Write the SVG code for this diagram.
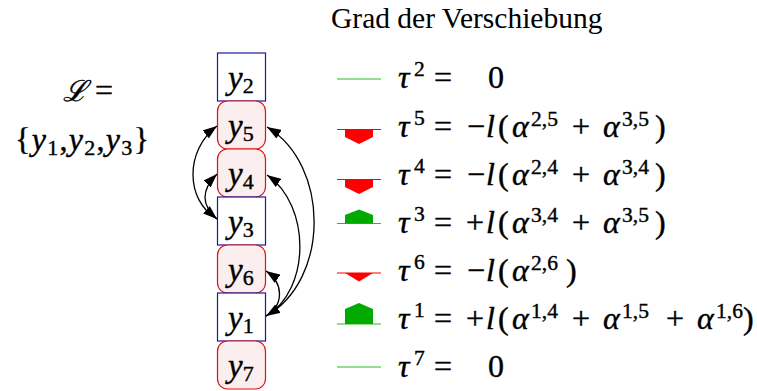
<svg xmlns="http://www.w3.org/2000/svg" width="757" height="391" viewBox="0 0 757 391">
<style>
text{font-family:"Liberation Serif","Times New Roman",serif;fill:#000}
.title{font-size:29.5px}
.m{font-size:32px;stroke:#000;stroke-width:0.4}
.i{font-style:italic}
.sup{font-size:21.5px}
.nl{font-size:33px;font-style:italic;stroke:#000;stroke-width:0.4}
.sub{font-size:22px;font-style:normal}
.sq{fill:#fff;stroke:#1a1aa0;stroke-width:1.2}
.rd{fill:#fbeeee;stroke:#dd1010;stroke-width:1.2}
.e{fill:none;stroke:#000;stroke-width:1.3}
.gl{stroke:#22c022;stroke-width:1}
.rl{stroke:#ff0000;stroke-width:1.2}
.gf{fill:#00aa00}
.rf{fill:#ff0000}
</style>
<defs>
<marker id="ah" viewBox="0 0 14 10" refX="14" refY="5" markerWidth="14" markerHeight="10" markerUnits="userSpaceOnUse" orient="auto-start-reverse">
<path d="M0,0 L14,5 L0,10 z" fill="#000"/>
</marker>
</defs>
<rect width="757" height="391" fill="#fff"/>
<text class="title" x="331" y="28">Grad der Verschiebung</text>
<g id="setL">
<text class="m" x="63" y="101"><tspan font-family="DejaVu Serif, serif" font-style="italic" font-size="29">ℒ</tspan><tspan x="95">=</tspan></text>
<text class="m" x="15" y="150" textLength="134" lengthAdjust="spacing">{<tspan class="i">y</tspan><tspan class="sub" dy="5">1</tspan><tspan dy="-5">,</tspan><tspan class="i">y</tspan><tspan class="sub" dy="5">2</tspan><tspan dy="-5">,</tspan><tspan class="i">y</tspan><tspan class="sub" dy="5">3</tspan><tspan dy="-5">}</tspan></text>
</g>
<g id="n-y2"><rect class="sq" x="217.5" y="53" width="48" height="48"/><text class="nl" x="228" y="89">y<tspan class="sub" dy="4">2</tspan></text></g>
<g id="n-y5"><rect class="rd" x="217.5" y="101" width="48" height="48" rx="10"/><text class="nl" x="228" y="137">y<tspan class="sub" dy="4">5</tspan></text></g>
<g id="n-y4"><rect class="rd" x="217.5" y="149" width="48" height="48" rx="10"/><text class="nl" x="228" y="185">y<tspan class="sub" dy="4">4</tspan></text></g>
<g id="n-y3"><rect class="sq" x="217.5" y="197" width="48" height="48"/><text class="nl" x="228" y="233">y<tspan class="sub" dy="4">3</tspan></text></g>
<g id="n-y6"><rect class="rd" x="217.5" y="245" width="48" height="48" rx="10"/><text class="nl" x="228" y="281">y<tspan class="sub" dy="4">6</tspan></text></g>
<g id="n-y1"><rect class="sq" x="217.5" y="293" width="48" height="48"/><text class="nl" x="228" y="329">y<tspan class="sub" dy="4">1</tspan></text></g>
<g id="n-y7"><rect class="rd" x="217.5" y="341" width="48" height="48" rx="10"/><text class="nl" x="228" y="377">y<tspan class="sub" dy="4">7</tspan></text></g>
<g id="connectors">
<path class="e" d="M266,316 C330,280 330,165 267,127" marker-end="url(#ah)"/>
<path class="e" d="M266,316 C311,290 311,205 267,175" marker-end="url(#ah)"/>
<path class="e" d="M266,316 C284,305 284,283 266,271" marker-start="url(#ah)" marker-end="url(#ah)"/>
<path class="e" d="M217,219 C185,200 185,150 217,126" marker-end="url(#ah)"/>
<path class="e" d="M217,219 C201,205 201,190 217,174" marker-start="url(#ah)" marker-end="url(#ah)"/>
</g>
<g id="legend">
<line class="gl" x1="337" y1="79" x2="381" y2="79"/>
<line class="rl" x1="337" y1="129.5" x2="381" y2="129.5"/>
<polygon class="rf" points="345,129.5 373,129.5 373,137 359,144 345,137"/>
<line class="rl" x1="337" y1="179.5" x2="381" y2="179.5"/>
<polygon class="rf" points="345,179.5 373,179.5 373,187 359,194 345,187"/>
<line class="gl" x1="337" y1="223.5" x2="381" y2="223.5"/>
<polygon class="gf" points="345,223.5 373,223.5 373,215 359,209.5 345,215"/>
<line class="rl" x1="337" y1="273" x2="381" y2="273"/>
<polygon class="rf" points="345,273 373,273 359,281.5"/>
<line class="gl" x1="337" y1="324" x2="381" y2="324"/>
<polygon class="gf" points="345,324 373,324 373,309 359,303 345,309"/>
<line class="gl" x1="337" y1="367" x2="381" y2="367"/>
</g>
<g id="formulas" class="m">
<text y="88"><tspan x="398" class="i">τ</tspan><tspan class="sup" x="414" dy="-12">2</tspan><tspan x="434" dy="12">=</tspan><tspan x="488">0</tspan></text>
<text y="137"><tspan x="398" class="i">τ</tspan><tspan class="sup" x="414" dy="-12">5</tspan><tspan x="434" dy="12">=</tspan><tspan x="467">−</tspan><tspan x="486" class="i">l</tspan><tspan x="498">(</tspan><tspan x="512" class="i">α</tspan><tspan class="sup" x="531" dy="-11">2,5</tspan><tspan x="572" dy="11">+</tspan><tspan x="603" class="i">α</tspan><tspan class="sup" x="622" dy="-11">3,5</tspan><tspan x="655" dy="11">)</tspan></text>
<text y="185"><tspan x="398" class="i">τ</tspan><tspan class="sup" x="414" dy="-12">4</tspan><tspan x="434" dy="12">=</tspan><tspan x="467">−</tspan><tspan x="486" class="i">l</tspan><tspan x="498">(</tspan><tspan x="512" class="i">α</tspan><tspan class="sup" x="531" dy="-11">2,4</tspan><tspan x="572" dy="11">+</tspan><tspan x="603" class="i">α</tspan><tspan class="sup" x="622" dy="-11">3,4</tspan><tspan x="655" dy="11">)</tspan></text>
<text y="233"><tspan x="398" class="i">τ</tspan><tspan class="sup" x="414" dy="-12">3</tspan><tspan x="434" dy="12">=</tspan><tspan x="466">+</tspan><tspan x="486" class="i">l</tspan><tspan x="498">(</tspan><tspan x="512" class="i">α</tspan><tspan class="sup" x="531" dy="-11">3,4</tspan><tspan x="572" dy="11">+</tspan><tspan x="603" class="i">α</tspan><tspan class="sup" x="622" dy="-11">3,5</tspan><tspan x="655" dy="11">)</tspan></text>
<text y="281"><tspan x="398" class="i">τ</tspan><tspan class="sup" x="414" dy="-12">6</tspan><tspan x="434" dy="12">=</tspan><tspan x="467">−</tspan><tspan x="486" class="i">l</tspan><tspan x="498">(</tspan><tspan x="512" class="i">α</tspan><tspan class="sup" x="531" dy="-11">2,6</tspan><tspan x="566" dy="11">)</tspan></text>
<text y="329"><tspan x="398" class="i">τ</tspan><tspan class="sup" x="414" dy="-12">1</tspan><tspan x="434" dy="12">=</tspan><tspan x="466">+</tspan><tspan x="486" class="i">l</tspan><tspan x="498">(</tspan><tspan x="512" class="i">α</tspan><tspan class="sup" x="531" dy="-11">1,4</tspan><tspan x="572" dy="11">+</tspan><tspan x="603" class="i">α</tspan><tspan class="sup" x="622" dy="-11">1,5</tspan><tspan x="666" dy="11">+</tspan><tspan x="697" class="i">α</tspan><tspan class="sup" x="716" dy="-11">1,6</tspan><tspan x="743" dy="11">)</tspan></text>
<text y="377"><tspan x="398" class="i">τ</tspan><tspan class="sup" x="414" dy="-12">7</tspan><tspan x="434" dy="12">=</tspan><tspan x="488">0</tspan></text>
</g>
</svg>
